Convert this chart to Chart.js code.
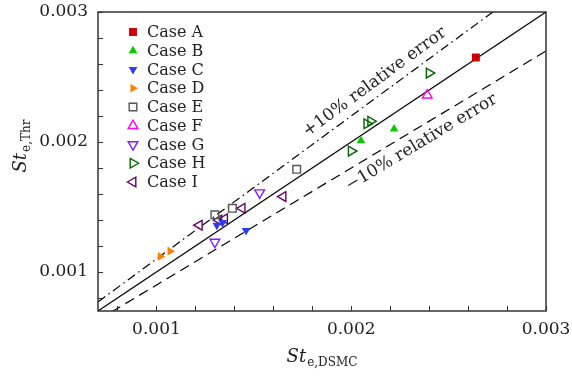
<!DOCTYPE html>
<html>
<head>
<meta charset="UTF-8">
<title>St comparison</title>
<script src="https://cdn.jsdelivr.net/npm/chart.js"></script>
<style>
  html, body { margin: 0; padding: 0; background: #fff; }
  #wrap { width: 572px; height: 376px; }
</style>
</head>
<body>
<div id="wrap"><canvas id="chart" width="572" height="376"></canvas></div>
<script>
// St_e,DSMC (x) vs St_e,Thr (y) for each case
const caseNames = ['Case A', 'Case B', 'Case C', 'Case D', 'Case E', 'Case F', 'Case G', 'Case H', 'Case I'];
const aX = [0.00264], aY = [0.00265];
const bX = [0.00205, 0.00222], bY = [0.00201, 0.00210];
const cX = [0.00131, 0.00134, 0.00146], cY = [0.00136, 0.00138, 0.00132];
const dX = [0.00102, 0.00107], dY = [0.00112, 0.00116];
const eX = [0.00130, 0.00139, 0.00172], eY = [0.00144, 0.00149, 0.00179];
const fX = [0.00239], fY = [0.00236];
const gX = [0.00153, 0.00130], gY = [0.00161, 0.00123];
const hX = [0.00240, 0.00208, 0.00210, 0.00200], hY = [0.00253, 0.00214, 0.00216, 0.00193];
const iX = [0.00122, 0.00132, 0.00135, 0.00144, 0.00165], iY = [0.00136, 0.00140, 0.00141, 0.00149, 0.00158];

// reference lines: y = x, +10 %, -10 %
const refX = [0.0007, 0.003];
const equalY = [0.0007, 0.003];
const plusY = [0.00077, 0.0033];
const minusY = [0.00063, 0.0027];

const axisTicks = [0.0008, 0.001, 0.0012, 0.0014, 0.0016, 0.0018, 0.002, 0.0022, 0.0024, 0.0026, 0.0028, 0.003];
const tickLabels = ['0.001', '0.002', '0.003'];

const SERIF = "'DejaVu Serif', 'Liberation Serif', serif";

function pts(xs, ys) {
  return xs.map((x, k) => ({ x: x, y: ys[k] }));
}

const caseStyles = [
  { c: '#cc0000', style: 'rect', rot: 0, fill: true, r: 5.6 },
  { c: '#00cc00', style: 'triangle', rot: 0, fill: true, r: 5 },
  { c: '#2a3cf0', style: 'triangle', rot: 180, fill: true, r: 5 },
  { c: '#ff8000', style: 'triangle', rot: 90, fill: true, r: 5 },
  { c: '#555555', style: 'rect', rot: 0, fill: false, r: 5.4 },
  { c: '#ff00ff', style: 'triangle', rot: 0, fill: false, r: 5.6 },
  { c: '#8a1cff', style: 'triangle', rot: 180, fill: false, r: 5.6 },
  { c: '#006400', style: 'triangle', rot: 90, fill: false, r: 5.6 },
  { c: '#660066', style: 'triangle', rot: 270, fill: false, r: 5.6 }
];
const caseData = [pts(aX, aY), pts(bX, bY), pts(cX, cY), pts(dX, dY), pts(eX, eY),
                  pts(fX, fY), pts(gX, gY), pts(hX, hY), pts(iX, iY)];

const datasets = caseNames.map((name, k) => {
  const s = caseStyles[k];
  return {
    label: name,
    data: caseData[k],
    pointStyle: s.style,
    rotation: s.rot,
    radius: s.r,
    hoverRadius: s.r,
    borderWidth: s.fill ? 0 : 1.4,
    borderColor: s.c,
    backgroundColor: s.fill ? s.c : 'rgba(0,0,0,0)',
    order: 1
  };
});

function refLine(ys, dash) {
  return {
    label: '',
    data: pts(refX, ys),
    showLine: true,
    pointRadius: 0,
    borderColor: '#000',
    borderWidth: 1.2,
    borderDash: dash,
    order: 10
  };
}
datasets.push(refLine(equalY, []));
datasets.push(refLine(plusY, [9, 4, 1.5, 4]));
datasets.push(refLine(minusY, [10, 6]));

function drawSub(ctx, main, sub, cx, cy, angle) {
  ctx.save();
  ctx.translate(cx, cy);
  ctx.rotate(angle);
  ctx.font = 'italic 18px ' + SERIF;
  const w1 = ctx.measureText(main).width;
  ctx.font = '12px ' + SERIF;
  const w2 = ctx.measureText(sub).width;
  const x0 = -(w1 + w2 + 1) / 2;
  ctx.textBaseline = 'alphabetic';
  ctx.textAlign = 'left';
  ctx.fillStyle = '#222';
  ctx.font = 'italic 18px ' + SERIF;
  ctx.fillText(main, x0, 0);
  ctx.font = '12px ' + SERIF;
  ctx.fillText(sub, x0 + w1 + 1, 4);
  ctx.restore();
}

const extras = {
  id: 'extras',
  afterDraw(chart) {
    const { ctx, chartArea: a, scales } = chart;
    const xs = scales.x, ys = scales.y;
    ctx.save();
    // frame
    ctx.strokeStyle = '#333';
    ctx.lineWidth = 1.5;
    ctx.strokeRect(a.left, a.top, a.right - a.left, a.bottom - a.top);

    // axis titles
    drawSub(ctx, 'St', 'e,DSMC', (a.left + a.right) / 2, 362, 0);
    drawSub(ctx, 'St', 'e,Thr', 26, 146, -Math.PI / 2);

    // relative error annotations along the lines
    const dxu = xs.getPixelForValue(0.002) - xs.getPixelForValue(0.001);
    const dyu = ys.getPixelForValue(0.001) - ys.getPixelForValue(0.002);
    const notes = [
      { t: '+10% relative error', k: 1.1, x: 0.002120, y: 0.002460 },
      { t: '\u221210% relative error', k: 0.9, x: 0.002360, y: 0.001995 }
    ];
    ctx.font = '17px ' + SERIF;
    ctx.fillStyle = '#222';
    ctx.textAlign = 'center';
    ctx.textBaseline = 'middle';
    notes.forEach(n => {
      const ang = Math.atan2(-n.k * dyu, dxu);
      ctx.save();
      ctx.translate(xs.getPixelForValue(n.x), ys.getPixelForValue(n.y));
      ctx.rotate(ang);
      ctx.fillText(n.t, 0, 0);
      ctx.restore();
    });

    // legend in the upper left corner
    const lx = a.left + 35, ly = a.top + 25;
    caseNames.forEach((name, k) => {
      const s = caseStyles[k];
      const yy = ly + k * 18.75;
      ctx.fillStyle = s.fill ? s.c : 'rgba(0,0,0,0)';
      ctx.strokeStyle = s.c;
      ctx.lineWidth = s.fill ? 0 : 1.4;
      Chart.helpers.drawPoint(ctx, {
        pointStyle: s.style, rotation: s.rot, radius: s.r, borderWidth: s.fill ? 0 : 1.4
      }, lx, yy - 5);
      ctx.fillStyle = '#222';
      ctx.font = '16px ' + SERIF;
      ctx.textAlign = 'left';
      ctx.textBaseline = 'alphabetic';
      ctx.fillText(name, lx + 14, yy);
    });
    ctx.restore();
  }
};

function axisOpts(isX) {
  return {
    type: 'linear',
    min: 0.0007,
    max: 0.003,
    border: { display: false },
    grid: {
      drawOnChartArea: false,
      drawTicks: true,
      tickLength: -5,
      color: '#333',
      lineWidth: 1
    },
    ticks: {
      autoSkip: false,
      maxRotation: 0,
      padding: isX ? 13 : 15,
      color: '#222',
      font: { family: SERIF, size: 17 },
      callback: v => {
        const s = v.toFixed(3);
        return tickLabels.includes(s) && Math.abs(v - Number(s)) < 1e-9 ? s : '';
      }
    },
    afterBuildTicks: scale => {
      scale.ticks = axisTicks.map(v => ({ value: v }));
    },
    afterFit: scale => {
      if (isX) scale.height = 65; else scale.width = 98;
      scale.paddingLeft = 0;
      scale.paddingRight = 0;
      scale.paddingTop = 0;
      scale.paddingBottom = 0;
    }
  };
}

new Chart(document.getElementById('chart').getContext('2d'), {
  type: 'scatter',
  data: { datasets: datasets },
  options: {
    responsive: false,
    animation: false,
    layout: { padding: { top: 12, right: 26, left: 0, bottom: 0 } },
    plugins: {
      legend: { display: false },
      tooltip: { enabled: false }
    },
    scales: {
      x: axisOpts(true),
      y: axisOpts(false)
    }
  },
  plugins: [extras]
});
</script>
</body>
</html>
